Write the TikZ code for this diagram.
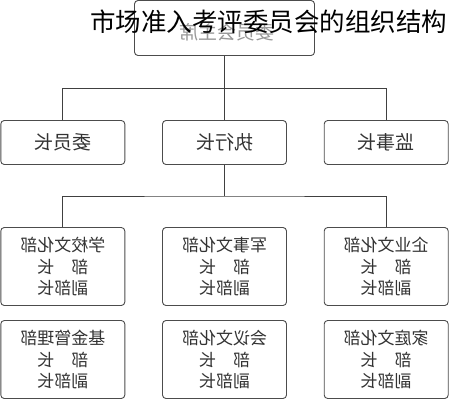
\documentclass[tikz,border=0pt]{standalone}
\usepackage{fontspec}
\newfontfamily\cjk{Noto Sans CJK SC}
\begin{document}
\begin{tikzpicture}[x=1pt,y=1pt,
  box/.style={draw=black!70, line width=0.9pt, rounded corners=3.5pt, fill=white,
    minimum width=124pt, inner sep=0pt, text=black!80},
  small/.style={box, minimum height=44pt, font=\cjk\fontsize{19}{22}\selectfont},
  dept/.style={box, minimum height=78pt, align=center, font=\cjk\fontsize{17}{21.5}\selectfont},
  link/.style={draw=black!75, line width=0.9pt}]
\useasboundingbox (0,0) rectangle (449,-400);
% top box
\node[box, minimum width=180pt, minimum height=55pt, text=black!40,
  font=\cjk\fontsize{19}{22}\selectfont, xscale=-1] (top) at (224.5,-28) {};
\node[text=black!40, font=\cjk\fontsize{19}{22}\selectfont, xscale=-1] (toptext) at (227,-32) {委员会主席};
% row 2
\node[small, xscale=-1] (r2l) at (62.8,-142.5) {委员长};
\node[small, xscale=-1] (r2m) at (224.5,-142.5) {执行长};
\node[small, xscale=-1] (r2r) at (386.2,-142.5) {监事长};
% row 3
\node[dept, xscale=-1] (r3l) at (62.8,-266.5) {学校文化部\\部　长\\副部长};
\node[dept, xscale=-1] (r3m) at (224.5,-266.5) {军事文化部\\部　长\\副部长};
\node[dept, xscale=-1] (r3r) at (386.2,-266.5) {企业文化部\\部　长\\副部长};
% row 4
\node[dept, xscale=-1] (r4l) at (62.8,-359.5) {基金管理部\\部　长\\副部长};
\node[dept, xscale=-1] (r4m) at (224.5,-359.5) {会议文化部\\部　长\\副部长};
\node[dept, xscale=-1] (r4r) at (386.2,-359.5) {家庭文化部\\部　长\\副部长};
% connectors
\coordinate (j1) at (224.5,-88.5);
\coordinate (j2) at (224.5,-196);
\draw[link] (top.south) -- (j1);
\draw[link] (r2l.north) |- (j1) -| (r2r.north);
\draw[link] (j1) -- (r2m.north);
\draw[link] (r2m.south) -- (j2);
\draw[link] (r3l.north) |- (j2) -| (r3r.north);
% title
\node[font=\cjk\fontsize{25.5}{28}\selectfont, text=black, inner sep=0pt] (title) at (268.5,-21.5) {市场准入考评委员会的组织结构};
\end{tikzpicture}
\end{document}
